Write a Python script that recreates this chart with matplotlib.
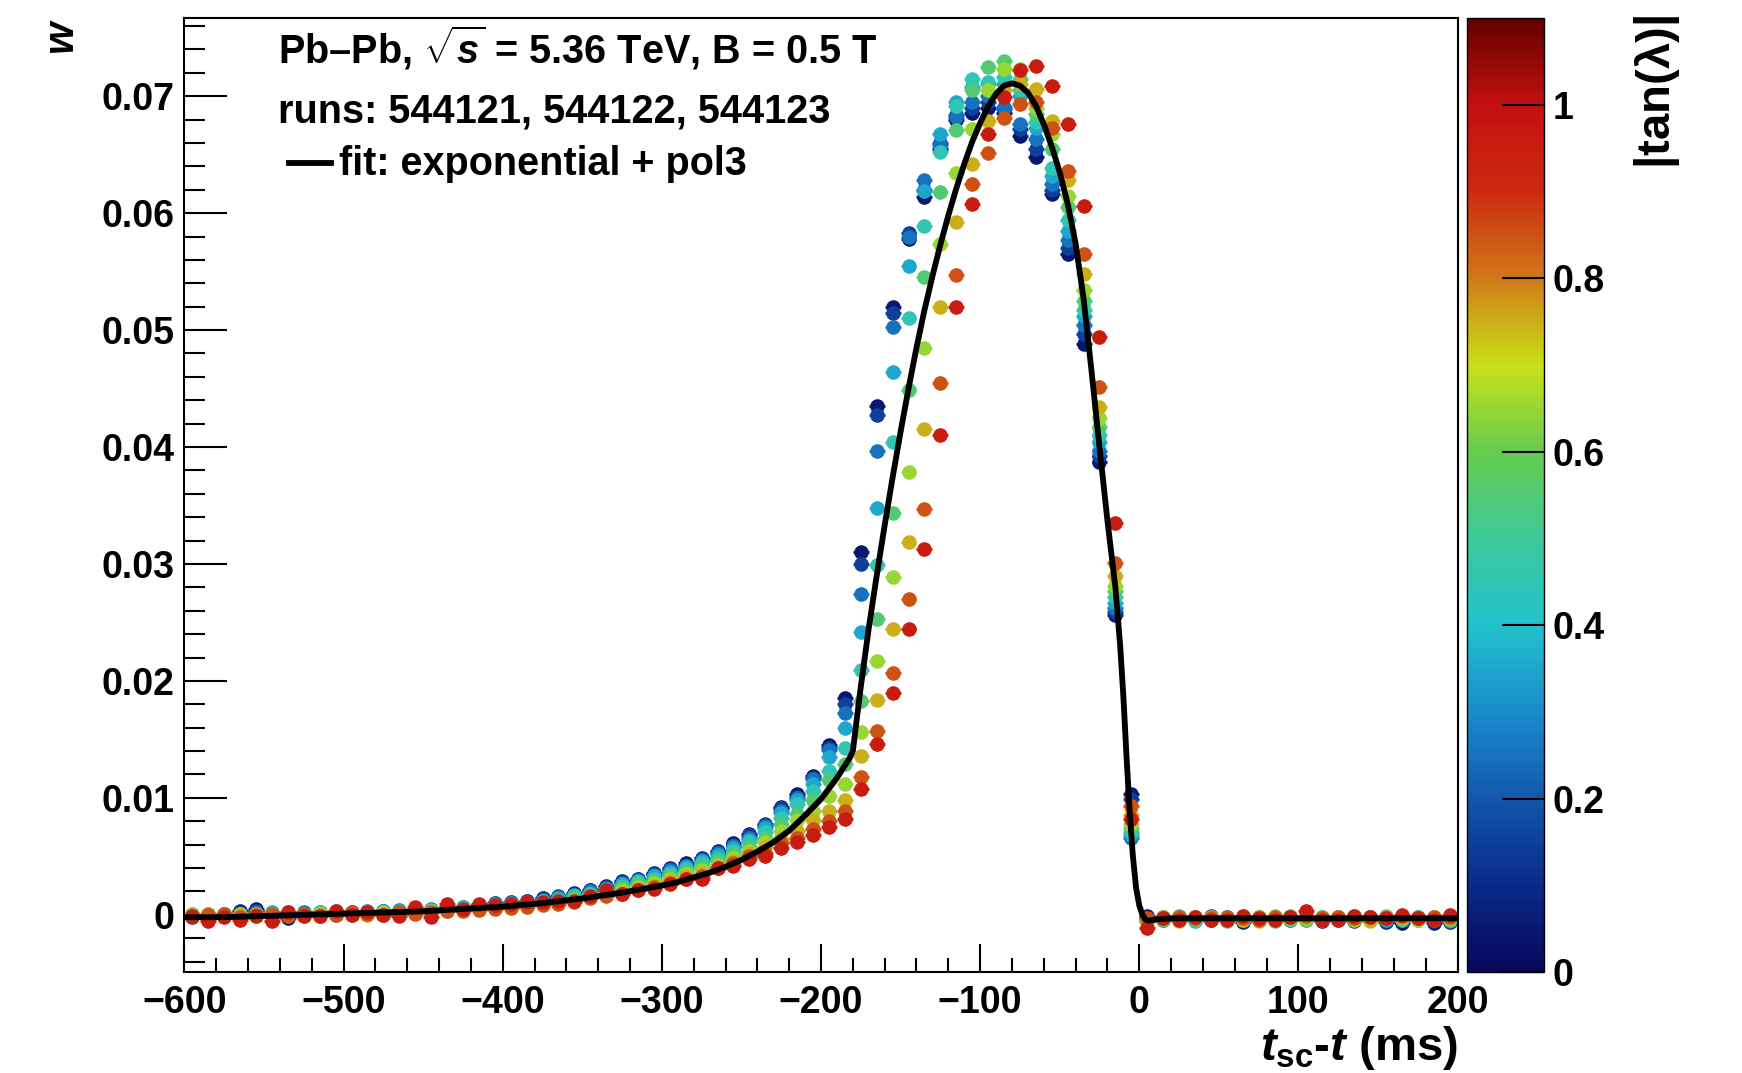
import numpy as np
import matplotlib
matplotlib.use("Agg")
from matplotlib import pyplot as plt
from matplotlib.colors import LinearSegmentedColormap, Normalize
from matplotlib.cm import ScalarMappable
from matplotlib.ticker import MultipleLocator, FuncFormatter

plt.rcParams['font.family'] = ['Liberation Sans', 'DejaVu Sans']
plt.rcParams['font.weight'] = 'bold'
plt.rcParams['mathtext.fontset'] = 'custom'
plt.rcParams['mathtext.rm'] = 'Liberation Sans:bold'
plt.rcParams['mathtext.bf'] = 'Liberation Sans:bold'
plt.rcParams['mathtext.it'] = 'Liberation Sans:bold:italic'

# bin centres (ms)
t_bins = [-595, -585, -575, -565, -555, -545, -535, -525, -515, -505,
          -495, -485, -475, -465, -455, -445, -435, -425, -415, -405,
          -395, -385, -375, -365, -355, -345, -335, -325, -315, -305,
          -295, -285, -275, -265, -255, -245, -235, -225, -215, -205,
          -195, -185, -175, -165, -155, -145, -135, -125, -115, -105,
          -95, -85, -75, -65, -55, -45, -35, -25, -15, -5,
          5, 15, 25, 35, 45, 55, 65, 75, 85, 95,
          105, 115, 125, 135, 145, 155, 165, 175, 185, 195]
t_halfwidth = 5

# |tan(lambda)| bin centres, one series each
tanl = [0.05, 0.15, 0.25, 0.35, 0.45, 0.55, 0.65, 0.75, 0.85, 0.95]

w0 = [-0.0002, 0.0000, 0.0001, 0.0003, 0.0005, 0.0000, -0.0003, 0.0001, 0.0000, 0.0002,
      0.0001, 0.0002, 0.0003, 0.0002, 0.0004, 0.0003, 0.0007, 0.0006, 0.0008, 0.0010,
      0.0011, 0.0012, 0.0014, 0.0015, 0.0019, 0.0021, 0.0025, 0.0029, 0.0031, 0.0036,
      0.0040, 0.0044, 0.0049, 0.0055, 0.0061, 0.0069, 0.0077, 0.0092, 0.0103, 0.0119,
      0.0145, 0.0185, 0.0310, 0.0435, 0.0520, 0.0578, 0.0614, 0.0655, 0.0680, 0.0686,
      0.0690, 0.0686, 0.0666, 0.0648, 0.0616, 0.0565, 0.0488, 0.0387, 0.0256, 0.0103,
      -0.0001, -0.0004, -0.0003, -0.0002, -0.0004, -0.0003, -0.0006, -0.0002, -0.0003, -0.0004,
      -0.0002, -0.0005, -0.0003, -0.0004, -0.0002, -0.0006, -0.0007, -0.0003, -0.0007, -0.0006]
w1 = [0.0000, -0.0002, 0.0001, 0.0002, 0.0003, 0.0001, -0.0001, 0.0000, 0.0002, 0.0001,
      0.0002, 0.0001, 0.0003, 0.0003, 0.0004, 0.0004, 0.0006, 0.0007, 0.0008, 0.0009,
      0.0010, 0.0012, 0.0014, 0.0016, 0.0018, 0.0021, 0.0024, 0.0028, 0.0031, 0.0035,
      0.0039, 0.0043, 0.0048, 0.0054, 0.0060, 0.0068, 0.0078, 0.0091, 0.0101, 0.0117,
      0.0143, 0.0180, 0.0300, 0.0427, 0.0515, 0.0583, 0.0620, 0.0660, 0.0684, 0.0690,
      0.0695, 0.0689, 0.0672, 0.0655, 0.0620, 0.0570, 0.0497, 0.0392, 0.0259, 0.0099,
      -0.0003, -0.0002, -0.0004, -0.0003, -0.0001, -0.0004, -0.0005, -0.0003, -0.0004, -0.0002,
      -0.0003, -0.0004, -0.0002, -0.0005, -0.0003, -0.0005, -0.0004, -0.0002, -0.0005, -0.0004]
w2 = [-0.0001, 0.0001, 0.0000, 0.0001, 0.0002, -0.0001, 0.0001, 0.0002, 0.0001, 0.0000,
      0.0002, 0.0003, 0.0002, 0.0004, 0.0003, 0.0005, 0.0006, 0.0006, 0.0008, 0.0009,
      0.0010, 0.0011, 0.0013, 0.0015, 0.0017, 0.0020, 0.0023, 0.0027, 0.0030, 0.0034,
      0.0038, 0.0042, 0.0047, 0.0053, 0.0059, 0.0066, 0.0076, 0.0089, 0.0100, 0.0116,
      0.0141, 0.0173, 0.0274, 0.0397, 0.0503, 0.0580, 0.0628, 0.0658, 0.0682, 0.0695,
      0.0700, 0.0691, 0.0676, 0.0663, 0.0625, 0.0577, 0.0504, 0.0397, 0.0262, 0.0066,
      -0.0004, -0.0003, -0.0002, -0.0004, -0.0003, -0.0002, -0.0004, -0.0003, -0.0002, -0.0003,
      -0.0004, -0.0002, -0.0003, -0.0003, -0.0004, -0.0002, -0.0003, -0.0004, -0.0003, -0.0005]
w3 = [0.0001, -0.0001, 0.0001, 0.0000, 0.0001, 0.0002, 0.0000, 0.0001, 0.0000, 0.0003,
      0.0001, 0.0002, 0.0003, 0.0002, 0.0004, 0.0004, 0.0005, 0.0007, 0.0007, 0.0009,
      0.0010, 0.0011, 0.0012, 0.0014, 0.0017, 0.0019, 0.0022, 0.0026, 0.0029, 0.0033,
      0.0037, 0.0041, 0.0046, 0.0051, 0.0057, 0.0064, 0.0074, 0.0087, 0.0098, 0.0112,
      0.0135, 0.0160, 0.0242, 0.0348, 0.0464, 0.0555, 0.0619, 0.0668, 0.0695, 0.0708,
      0.0710, 0.0710, 0.0700, 0.0673, 0.0632, 0.0585, 0.0512, 0.0404, 0.0267, 0.0068,
      -0.0005, -0.0002, -0.0003, -0.0005, -0.0002, -0.0003, -0.0002, -0.0004, -0.0003, -0.0002,
      -0.0003, -0.0003, -0.0004, -0.0002, -0.0003, -0.0004, -0.0002, -0.0003, -0.0004, -0.0003]
w4 = [0.0000, 0.0001, -0.0001, 0.0001, 0.0000, 0.0001, 0.0002, 0.0000, 0.0001, 0.0002,
      0.0000, 0.0001, 0.0002, 0.0003, 0.0003, 0.0004, 0.0005, 0.0006, 0.0007, 0.0008,
      0.0009, 0.0010, 0.0012, 0.0013, 0.0016, 0.0018, 0.0021, 0.0025, 0.0028, 0.0031,
      0.0035, 0.0039, 0.0044, 0.0049, 0.0055, 0.0062, 0.0071, 0.0083, 0.0095, 0.0106,
      0.0123, 0.0143, 0.0209, 0.0299, 0.0404, 0.0510, 0.0589, 0.0652, 0.0692, 0.0715,
      0.0712, 0.0716, 0.0705, 0.0678, 0.0639, 0.0594, 0.0517, 0.0410, 0.0272, 0.0071,
      -0.0004, -0.0003, -0.0001, -0.0003, -0.0004, -0.0002, -0.0003, -0.0003, -0.0002, -0.0004,
      -0.0002, -0.0003, -0.0004, -0.0001, -0.0003, -0.0003, -0.0004, -0.0002, -0.0003, -0.0002]
w5 = [-0.0001, 0.0000, 0.0001, -0.0001, 0.0001, 0.0000, 0.0001, 0.0001, 0.0002, 0.0001,
      0.0001, 0.0002, 0.0001, 0.0002, 0.0003, 0.0003, 0.0004, 0.0005, 0.0006, 0.0007,
      0.0008, 0.0009, 0.0011, 0.0012, 0.0014, 0.0017, 0.0020, 0.0023, 0.0026, 0.0029,
      0.0033, 0.0037, 0.0041, 0.0046, 0.0052, 0.0058, 0.0066, 0.0078, 0.0086, 0.0098,
      0.0115, 0.0129, 0.0183, 0.0253, 0.0344, 0.0449, 0.0545, 0.0618, 0.0671, 0.0705,
      0.0725, 0.0730, 0.0715, 0.0685, 0.0655, 0.0605, 0.0525, 0.0417, 0.0277, 0.0074,
      -0.0005, -0.0004, -0.0002, -0.0004, -0.0003, -0.0005, -0.0002, -0.0003, -0.0005, -0.0001,
      -0.0004, -0.0002, -0.0003, -0.0002, -0.0004, -0.0001, -0.0003, -0.0004, -0.0002, -0.0004]
w6 = [0.0001, -0.0002, 0.0000, 0.0001, -0.0001, 0.0001, 0.0000, -0.0001, 0.0001, 0.0002,
      0.0000, 0.0001, 0.0002, 0.0001, 0.0002, 0.0003, 0.0004, 0.0004, 0.0005, 0.0006,
      0.0007, 0.0009, 0.0010, 0.0011, 0.0013, 0.0016, 0.0018, 0.0021, 0.0024, 0.0027,
      0.0031, 0.0035, 0.0038, 0.0043, 0.0049, 0.0055, 0.0062, 0.0072, 0.0081, 0.0089,
      0.0102, 0.0112, 0.0156, 0.0217, 0.0289, 0.0379, 0.0485, 0.0574, 0.0634, 0.0672,
      0.0705, 0.0723, 0.0723, 0.0690, 0.0668, 0.0615, 0.0534, 0.0425, 0.0281, 0.0078,
      -0.0006, -0.0003, -0.0005, -0.0002, -0.0003, -0.0004, -0.0001, -0.0005, -0.0001, -0.0003,
      -0.0003, -0.0004, -0.0002, -0.0004, -0.0005, -0.0003, -0.0002, -0.0004, -0.0003, -0.0003]
w7 = [0.0000, 0.0001, -0.0001, 0.0000, 0.0001, -0.0001, 0.0001, 0.0000, 0.0000, 0.0001,
      0.0001, 0.0000, 0.0001, 0.0001, 0.0002, 0.0002, 0.0003, 0.0004, 0.0005, 0.0006,
      0.0007, 0.0008, 0.0009, 0.0010, 0.0012, 0.0015, 0.0017, 0.0019, 0.0022, 0.0025,
      0.0029, 0.0033, 0.0035, 0.0041, 0.0046, 0.0052, 0.0058, 0.0065, 0.0072, 0.0081,
      0.0089, 0.0098, 0.0136, 0.0184, 0.0244, 0.0319, 0.0415, 0.0520, 0.0592, 0.0642,
      0.0679, 0.0705, 0.0710, 0.0706, 0.0679, 0.0628, 0.0548, 0.0434, 0.0290, 0.0085,
      -0.0004, -0.0002, -0.0004, -0.0003, -0.0002, -0.0003, -0.0004, -0.0002, -0.0004, -0.0003,
      -0.0002, -0.0003, -0.0003, -0.0002, -0.0004, -0.0002, -0.0003, -0.0003, -0.0002, -0.0003]
w8 = [-0.0001, 0.0000, 0.0001, -0.0002, 0.0000, 0.0001, -0.0001, 0.0001, -0.0001, 0.0000,
      0.0002, 0.0001, 0.0000, 0.0002, 0.0001, 0.0002, 0.0003, 0.0003, 0.0004, 0.0005,
      0.0006, 0.0007, 0.0008, 0.0009, 0.0011, 0.0014, 0.0016, 0.0018, 0.0021, 0.0024,
      0.0027, 0.0031, 0.0033, 0.0040, 0.0044, 0.0050, 0.0053, 0.0061, 0.0066, 0.0073,
      0.0080, 0.0089, 0.0118, 0.0157, 0.0207, 0.0270, 0.0347, 0.0455, 0.0547, 0.0625,
      0.0651, 0.0681, 0.0693, 0.0695, 0.0673, 0.0636, 0.0565, 0.0451, 0.0301, 0.0093,
      -0.0003, -0.0003, -0.0002, -0.0003, -0.0003, -0.0002, -0.0003, -0.0004, -0.0002, -0.0002,
      -0.0001, -0.0003, -0.0002, -0.0003, -0.0002, -0.0003, -0.0001, -0.0003, -0.0002, -0.0002]
w9 = [-0.0001, -0.0005, -0.0002, -0.0004, -0.0001, -0.0005, 0.0002, -0.0001, -0.0001, 0.0003,
      0.0000, 0.0002, 0.0000, -0.0001, 0.0007, -0.0002, 0.0009, 0.0005, 0.0009, 0.0008,
      0.0009, 0.0011, 0.0011, 0.0012, 0.0012, 0.0016, 0.0021, 0.0018, 0.0021, 0.0022,
      0.0026, 0.0031, 0.0031, 0.0040, 0.0042, 0.0048, 0.0050, 0.0057, 0.0062, 0.0068,
      0.0075, 0.0082, 0.0108, 0.0146, 0.0190, 0.0244, 0.0313, 0.0410, 0.0520, 0.0608,
      0.0668, 0.0699, 0.0722, 0.0726, 0.0709, 0.0676, 0.0606, 0.0494, 0.0335, 0.0082,
      -0.0011, -0.0003, -0.0004, -0.0002, -0.0004, -0.0004, -0.0001, -0.0003, -0.0004, -0.0002,
      0.0003, -0.0004, -0.0004, -0.0001, -0.0002, -0.0003, 0.0000, -0.0003, -0.0004, 0.0000]
series = [w0, w1, w2, w3, w4, w5, w6, w7, w8, w9]

# fit curve (exponential + pol3)
fit_t = [-600, -575, -550, -525, -500, -475, -450, -425, -400, -375,
         -350, -325, -300, -290, -280, -270, -260, -250, -240, -230,
         -220, -210, -200, -190, -182, -180, -175, -170, -165, -160,
         -155, -150, -145, -140, -135, -130, -125, -120, -115, -110,
         -105, -100, -95, -90, -85, -80, -75, -70, -65, -60,
         -55, -50, -45, -40, -35, -30, -25, -20, -15, -12,
         -10, -8, -6, -4, -2, 0, 2, 4, 6, 10,
         20, 200]
fit_w = [-0.0002, -0.0002, -0.0001, 0.0000, 0.0001, 0.0002, 0.0003, 0.0005, 0.0007, 0.0010,
         0.0014, 0.0019, 0.0025, 0.0028, 0.0032, 0.0036, 0.0041, 0.0047, 0.0054, 0.0062,
         0.0072, 0.0085, 0.0099, 0.0117, 0.0134, 0.0140, 0.0195, 0.0245, 0.0290, 0.0333,
         0.0374, 0.0413, 0.0450, 0.0485, 0.0517, 0.0546, 0.0573, 0.0598, 0.0621, 0.0642,
         0.0661, 0.0677, 0.0691, 0.0702, 0.0709, 0.0711, 0.0709, 0.0703, 0.0692, 0.0676,
         0.0657, 0.0635, 0.0608, 0.0574, 0.0527, 0.0465, 0.0400, 0.0337, 0.0280, 0.0230,
         0.0187, 0.0135, 0.0088, 0.0050, 0.0023, 0.0008, 0.0000, -0.0004, -0.0005, -0.0004,
         -0.0003, -0.0003]

palette = LinearSegmentedColormap.from_list('tanl', [
    (0.0 / 1.1, '#07075a'), (0.1 / 1.1, '#0a2a8a'), (0.2 / 1.1, '#1258ad'),
    (0.3 / 1.1, '#1a8ccc'), (0.4 / 1.1, '#22c2cc'), (0.5 / 1.1, '#3ec89a'),
    (0.6 / 1.1, '#66cc4e'), (0.7 / 1.1, '#c8e01a'), (0.75 / 1.1, '#ccb018'),
    (0.8 / 1.1, '#d07a18'), (0.9 / 1.1, '#cc2a10'), (1.0 / 1.1, '#c41010'),
    (1.0, '#660000')])
norm = Normalize(0, 1.1)

fig = plt.figure(figsize=(17.42, 10.73), dpi=100)
ax = fig.add_axes([0.1059, 0.0940, 0.7308, 0.8894])
cax = fig.add_axes([0.8421, 0.0940, 0.0442, 0.8894])

for tl, w in zip(tanl, series):
    c = palette(norm(tl))
    ax.errorbar(t_bins, w, xerr=t_halfwidth, fmt='o', ms=10.5, mew=0, color=c,
                ecolor=c, elinewidth=2, capsize=2.5, capthick=1.5)

ax.plot(fit_t, fit_w, color='black', lw=4.2, zorder=10)

ax.set_xlim(-600, 200)
ax.set_ylim(-0.0049, 0.0767)
ax.xaxis.set_major_locator(MultipleLocator(100))
ax.xaxis.set_minor_locator(MultipleLocator(20))
ax.yaxis.set_major_locator(MultipleLocator(0.01))
ax.yaxis.set_minor_locator(MultipleLocator(0.002))
ax.yaxis.set_major_formatter(FuncFormatter(lambda v, p: '0' if abs(v) < 1e-9 else f'{v:.2f}'))
ax.tick_params(axis='x', which='major', direction='in', length=20, width=1.5,
               labelsize=27, pad=9, top=False)
ax.tick_params(axis='x', which='minor', direction='in', length=10, width=1.5, top=False)
ax.tick_params(axis='y', which='major', direction='in', length=31, width=1.5,
               labelsize=27, pad=7, right=False)
ax.tick_params(axis='y', which='minor', direction='in', length=15, width=1.5, right=False)
for s in ax.spines.values():
    s.set_linewidth(1.5)

ax.text(0.0735, 0.9523, 'Pb\u2013Pb, $\\sqrt{s}$ = 5.36 TeV, B = 0.5 T',
        transform=ax.transAxes, fontsize=28.5, va='baseline', ha='left')
ax.text(0.0735, 0.8906, 'runs: 544121, 544122, 544123',
        transform=ax.transAxes, fontsize=28.5, va='baseline', ha='left')
ax.plot([0.0822, 0.1152], [0.8476, 0.8476], transform=ax.transAxes, color='black', lw=4.2)
ax.text(0.1214, 0.8348, 'fit: exponential + pol3',
        transform=ax.transAxes, fontsize=28.5, va='baseline', ha='left')

fig.text(0.035, 0.982, 'w', rotation=90, ha='center', va='top', fontsize=30, style='italic')
fig.text(0.8367, 0.012, '$t_{\\mathrm{sc}}$-$t$ (ms)', ha='right', va='baseline', fontsize=34)

sm = ScalarMappable(norm=norm, cmap=palette)
cb = fig.colorbar(sm, cax=cax)
cb.set_ticks([0, 0.2, 0.4, 0.6, 0.8, 1.0], labels=['0', '0.2', '0.4', '0.6', '0.8', '1'])
cb.minorticks_off()
cb.outline.set_linewidth(1)
cax.tick_params(direction='in', length=30, width=1.5, labelsize=27, pad=6, color='black')
fig.text(0.951, 0.986, '$\\left|\\mathrm{tan(\u03bb)}\\right|$', rotation=90,
         ha='center', va='top', fontsize=34)

fig.savefig('out.png', dpi=100)
